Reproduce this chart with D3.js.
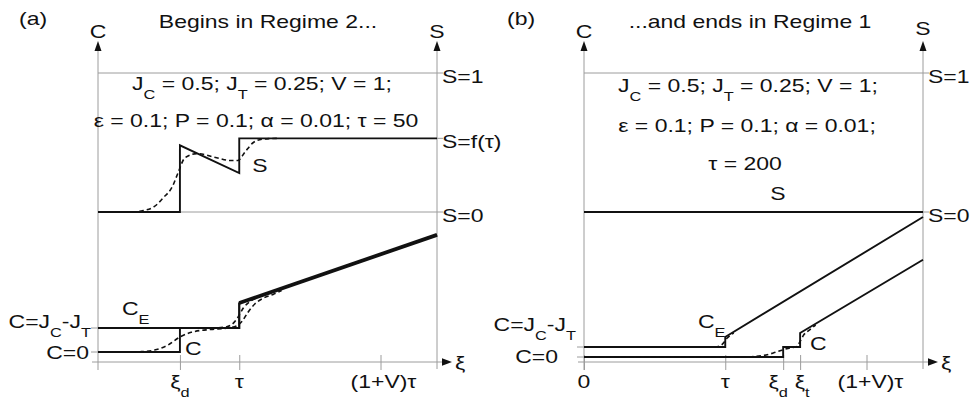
<!DOCTYPE html>
<html>
<head>
<meta charset="utf-8">
<script src="https://cdn.jsdelivr.net/npm/d3@7"></script>
<style>
  body { margin: 0; background: #fff; }
  svg { display: block; font-family: "Liberation Sans", Arial, sans-serif; }
  text { white-space: pre; fill: #111; }
</style>
</head>
<body>
<svg id="fig" width="970" height="406"></svg>
<script>
// ---------- panel (a): tau = 50, xi runs 0..120 ----------
const xMaxA = 120;
const ticksA = [
  { v: 29, base: "ξ", sub: "d" },
  { v: 50, base: "τ" },
  { v: 100, base: "(1+V)τ" }
];
const sLevelsA = [
  { v: 1, label: "S=1", grid: true },
  { v: 0.53, label: "S=f(τ)", grid: false },
  { v: 0, label: "S=0", grid: true }
];
const cLevelsA = [0.25, 0];
// sharp-front solution
const sSharpA  = [[0, 0], [29, 0], [29, 0.48], [50, 0.28], [50, 0.53], [120, 0.53]];
const ceSharpA = [[0, 0.25], [50, 0.25], [50, 0.51], [120, 1.22]];
const cSharpA  = [[0, 0], [29, 0], [29, 0.25], [50, 0.25], [50, 0.51]];
const cTailA   = [[50, 0.51], [120, 1.22]];
// smoothed (numerical) solution
const sSmoothA  = [[12, 0], [16, 0.01], [20, 0.04], [23, 0.1], [26.5, 0.19], [28.3, 0.28], [30.8, 0.39],
                   [35, 0.42], [42, 0.39], [47, 0.37], [49.5, 0.37], [52, 0.43], [55, 0.5], [58.5, 0.525], [64, 0.53]];
const cSmoothA  = [[12, 0], [15, 0.003], [20, 0.02], [24.8, 0.073], [29, 0.156], [33, 0.205], [40, 0.235],
                   [46, 0.25], [49, 0.27], [51, 0.32], [53, 0.41], [55.5, 0.5], [58.5, 0.56], [62, 0.6], [65, 0.64]];
const ceSmoothA = [[40, 0.25], [45, 0.26], [47.5, 0.29], [49.5, 0.36], [51.5, 0.46], [54, 0.53], [57, 0.575], [60, 0.605]];

// ---------- panel (b): tau = 200, xi runs 0..480 ----------
const xMaxB = 480;
const ticksB = [
  { v: 0, base: "0" },
  { v: 200, base: "τ" },
  { v: 282, base: "ξ", sub: "d" },
  { v: 306, base: "ξ", sub: "t" },
  { v: 400, base: "(1+V)τ" }
];
const sLevelsB = [
  { v: 1, label: "S=1", grid: true },
  { v: 0, label: "S=0", grid: true }
];
const cLevelsB = [0.25, 0];
const sSharpB  = [[0, 0], [480, 0]];
const ceSharpB = [[0, 0.25], [200, 0.25], [200, 0.5], [480, 3.5]];
const cSharpB  = [[0, 0], [282, 0], [282, 0.25], [306, 0.25], [306, 0.6], [480, 2.43]];
const cSmoothB  = [[0, 0], [225, 0], [240, 0.01], [255, 0.04], [268, 0.1], [282, 0.18], [292, 0.23], [300, 0.25],
                   [303, 0.3], [307, 0.42], [311, 0.55], [318, 0.66], [328, 0.8]];
const ceSmoothB = [[185, 0.25], [193, 0.28], [198, 0.36], [202, 0.46], [207, 0.54], [212, 0.6]];

// ---------- drawing ----------
const svg = d3.select("#fig");
const GRAY = "#9c9c9c";
const SX = 1.21;          // horizontal stretch of the lettering
const FS = 19, FSUB = 13.5, DROP = 9;

// text made of plain runs and {sub: "..."} subscript runs
function label(x, y, parts, anchor = "start") {
  const g = svg.append("g").attr("transform", `translate(${x},${y}) scale(${SX},1)`);
  const t = g.append("text").attr("text-anchor", anchor).attr("font-size", FS);
  let inSub = false;
  parts.forEach(p => {
    const isSub = typeof p === "object";
    const ts = t.append("tspan").text(isSub ? p.sub : p);
    if (isSub) ts.attr("font-size", FSUB);
    if (isSub && !inSub) ts.attr("dy", DROP);
    if (!isSub && inSub) ts.attr("dy", -DROP);
    inSub = isSub;
  });
  return t;
}

function arrowUp(x, tip) {
  svg.append("path").attr("d", `M${x},${tip} L${x - 3.5},${tip + 10} L${x + 3.5},${tip + 10} Z`).attr("fill", "#111");
}
function arrowRight(tipX, y) {
  svg.append("path").attr("d", `M${tipX},${y} L${tipX - 10},${y - 3.8} L${tipX - 10},${y + 3.8} Z`).attr("fill", "#111");
}

function drawPanel(p) {
  const x = d3.scaleLinear().domain([0, p.xMax]).range([p.left, p.right]);
  const yS = d3.scaleLinear().domain([0, 1]).range([212, 73]);
  const yC = d3.scaleLinear().domain([0, 1]).range([p.c0, p.c1]);
  const axisY = 362, topTip = 41;
  const L = p.left, R = p.right;

  const frame = svg.append("g").attr("stroke", GRAY).attr("stroke-width", 1).attr("fill", "none");
  // vertical C and S axes
  frame.append("line").attr("x1", L).attr("x2", L).attr("y1", topTip + 8).attr("y2", 370);
  frame.append("line").attr("x1", R).attr("x2", R).attr("y1", topTip + 8).attr("y2", 369);
  // S reference levels
  p.sLevels.forEach(d => {
    frame.append("line").attr("x1", d.grid ? L : R).attr("x2", R + 6).attr("y1", yS(d.v)).attr("y2", yS(d.v));
  });
  // C reference levels
  p.cLevels.forEach(v => {
    frame.append("line").attr("x1", L - 7).attr("x2", L).attr("y1", yC(v)).attr("y2", yC(v));
  });
  // xi axis
  frame.append("line").attr("x1", L - 6).attr("x2", R + 6).attr("y1", axisY).attr("y2", axisY);

  const axis = d3.axisBottom(x).tickValues(p.ticks.map(d => d.v)).tickSize(15).tickSizeOuter(0).tickFormat("");
  const ag = svg.append("g").attr("transform", `translate(0,${axisY - 7})`).call(axis);
  ag.select(".domain").remove();
  ag.selectAll(".tick line").attr("stroke", GRAY);

  arrowUp(L, topTip);
  arrowUp(R, topTip);
  arrowRight(R + 15, axisY);

  // curves
  const lineS = d3.line().x(d => x(d[0])).y(d => yS(d[1]));
  const lineC = d3.line().x(d => x(d[0])).y(d => yC(d[1]));
  const smoothS = d3.line().x(d => x(d[0])).y(d => yS(d[1])).curve(d3.curveMonotoneX);
  const smoothC = d3.line().x(d => x(d[0])).y(d => yC(d[1])).curve(d3.curveMonotoneX);
  const ink = svg.append("g").attr("fill", "none").attr("stroke", "#111").attr("stroke-linejoin", "miter");

  ink.append("path").attr("d", lineS(p.sSharp)).attr("stroke-width", 1.9);
  ink.append("path").attr("d", lineC(p.ceSharp)).attr("stroke-width", 1.9);
  ink.append("path").attr("d", lineC(p.cSharp)).attr("stroke-width", 1.9);
  if (p.cTail) ink.append("path").attr("d", lineC(p.cTail)).attr("stroke-width", 3.8);
  const dashed = [[p.sSmooth, smoothS], [p.cSmooth, smoothC], [p.ceSmooth, smoothC]];
  dashed.forEach(([data, gen]) => {
    if (data) ink.append("path").attr("d", gen(data)).attr("stroke-width", 1.6).attr("stroke-dasharray", "4.5,3");
  });

  // tick labels
  p.ticks.forEach(d => {
    const parts = d.sub ? [d.base, { sub: d.sub }] : [d.base];
    label(x(d.v) + (p.tickNudge[d.base + (d.sub || "")] || 0), 388, parts, "middle");
  });
  // S level labels
  p.sLevels.forEach(d => label(R + 5, yS(d.v) + 10, [d.label]));
  // axis names
  label(L, 38, ["C"], "middle");
  label(R, p.sNameY, ["S"], "middle");
  label(R + 18, axisY + 7, ["ξ"]);
  return { x, yS, yC };
}

// panel (a)
const pa = drawPanel({
  xMax: xMaxA, left: 98, right: 437, c0: 352, c1: 256,
  ticks: ticksA, sLevels: sLevelsA, cLevels: cLevelsA,
  sSharp: sSharpA, ceSharp: ceSharpA, cSharp: cSharpA, cTail: cTailA,
  sSmooth: sSmoothA, cSmooth: cSmoothA, ceSmooth: ceSmoothA,
  tickNudge: { "(1+V)τ": 3 }, sNameY: 38
});
label(19, 25, ["(a)"]);
label(268, 28, ["Begins in Regime 2..."], "middle");
label(262, 90, ["J", { sub: "C" }, " = 0.5; J", { sub: "T" }, " = 0.25; V = 1;"], "middle");
label(256, 127, ["ε = 0.1; P = 0.1; α = 0.01; τ = 50"], "middle");
label(260, 172, ["S"], "middle");
label(122, 315, ["C", { sub: "E" }]);
label(185, 355, ["C"]);
label(91, 328, ["C=J", { sub: "C" }, "-J", { sub: "T" }], "end");
label(89, 359, ["C=0"], "end");

// panel (b)
const pb = drawPanel({
  xMax: xMaxB, left: 584, right: 923, c0: 357, c1: 317,
  ticks: ticksB, sLevels: sLevelsB, cLevels: cLevelsB,
  sSharp: sSharpB, ceSharp: ceSharpB, cSharp: cSharpB,
  cSmooth: cSmoothB, ceSmooth: ceSmoothB,
  tickNudge: { "ξd": -5, "ξt": 2, "(1+V)τ": 4 }, sNameY: 35
});
label(507, 25, ["(b)"]);
label(750, 28, ["...and ends in Regime 1"], "middle");
label(748, 92, ["J", { sub: "C" }, " = 0.5; J", { sub: "T" }, " = 0.25; V = 1;"], "middle");
label(747, 132, ["ε = 0.1; P = 0.1; α = 0.01;"], "middle");
label(745, 170, ["τ = 200"], "middle");
label(778, 200, ["S"], "middle");
label(698, 328, ["C", { sub: "E" }]);
label(810, 350, ["C"]);
label(576, 331, ["C=J", { sub: "C" }, "-J", { sub: "T" }], "end");
label(558, 363, ["C=0"], "end");
</script>
</body>
</html>
